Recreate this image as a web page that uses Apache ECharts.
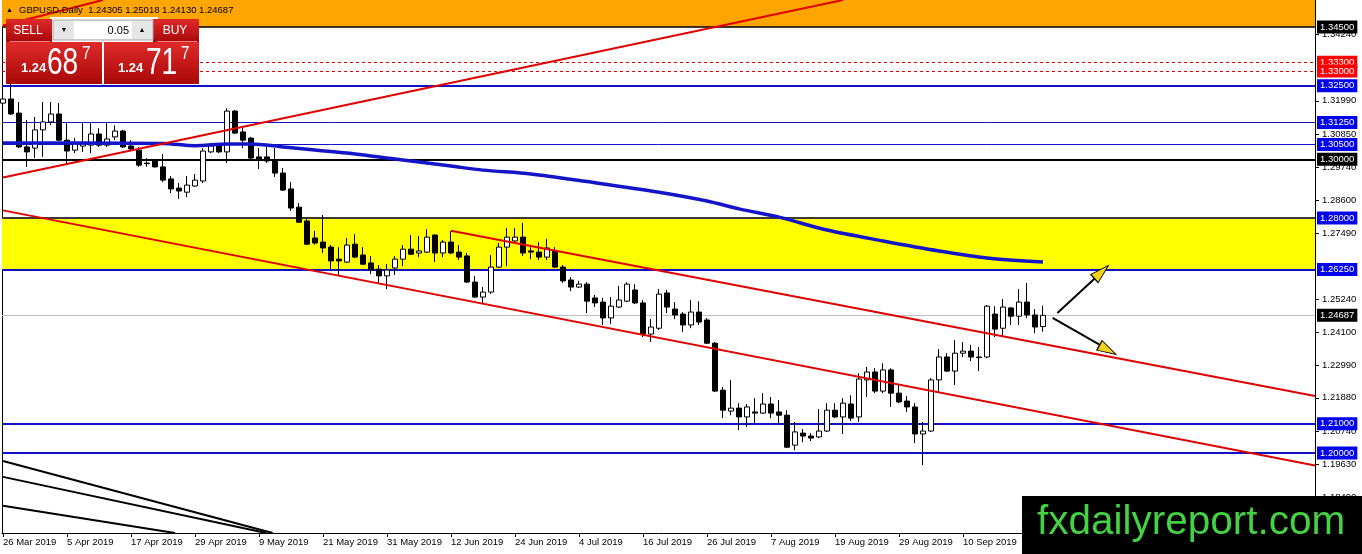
<!DOCTYPE html>
<html>
<head>
<meta charset="utf-8">
<script src="https://cdn.jsdelivr.net/npm/echarts@6/dist/echarts.min.js"></script>
<style>
html, body { margin: 0; padding: 0; background: #fff; }
#chart { width: 1362px; height: 554px; }
</style>
</head>
<body>
<div id="chart"></div>
<script>
// GBPUSD daily bars, 26 Mar 2019 .. 24 Sep 2019 (one per weekday)
var openP = [1.3191,1.3205,1.3157,1.3042,1.3038,1.3100,1.3127,1.3154,1.3065,1.3031,
  1.3045,1.3048,1.3086,1.3048,1.3076,1.3096,1.3045,1.3031,1.2987,1.2994,
  1.2974,1.2933,1.2902,1.2888,1.2909,1.2926,1.3025,1.3045,1.3025,1.3164,
  1.3093,1.3072,1.3008,1.3008,1.2994,1.2953,1.2899,1.2837,1.2790,1.2732,
  1.2718,1.2701,1.2660,1.2650,1.2711,1.2674,1.2647,1.2626,1.2603,1.2630,
  1.2660,1.2694,1.2681,1.2684,1.2742,1.2681,1.2718,1.2684,1.2671,1.2582,
  1.2531,1.2548,1.2633,1.2701,1.2722,1.2735,1.2688,1.2684,1.2667,1.2688,
  1.2633,1.2589,1.2565,1.2575,1.2528,1.2514,1.2460,1.2497,1.2517,1.2555,
  1.2511,1.2405,1.2425,1.2545,1.2490,1.2473,1.2436,1.2480,1.2453,1.2374,
  1.2214,1.2143,1.2153,1.2123,1.2140,1.2136,1.2167,1.2140,1.2129,1.2027,
  1.2068,1.2058,1.2055,1.2075,1.2146,1.2123,1.2167,1.2123,1.2249,1.2276,
  1.2211,1.2283,1.2204,1.2177,1.2157,1.2065,1.2075,1.2249,1.2327,1.2279,
  1.2340,1.2347,1.2327,1.2327,1.2473,1.2425,1.2494,1.2466,1.2514,1.2470,
  1.24305];
var highP = [1.3236,1.3270,1.3195,1.3134,1.3144,1.3195,1.3195,1.3191,1.3123,1.3072,
  1.3123,1.3123,1.3106,1.3127,1.3116,1.3100,1.3065,1.3042,1.3004,1.3001,
  1.3018,1.2943,1.2919,1.2943,1.2950,1.3038,1.3052,1.3052,1.3174,1.3168,
  1.3110,1.3076,1.3038,1.3042,1.3038,1.2970,1.2922,1.2851,1.2800,1.2756,
  1.2810,1.2708,1.2701,1.2732,1.2745,1.2701,1.2671,1.2640,1.2643,1.2671,
  1.2708,1.2742,1.2739,1.2762,1.2745,1.2725,1.2756,1.2708,1.2681,1.2603,
  1.2565,1.2674,1.2715,1.2766,1.2766,1.2783,1.2701,1.2718,1.2729,1.2701,
  1.2640,1.2599,1.2586,1.2582,1.2538,1.2528,1.2531,1.2569,1.2582,1.2575,
  1.2521,1.2456,1.2558,1.2555,1.2514,1.2480,1.2521,1.2517,1.2460,1.2378,
  1.2225,1.2249,1.2170,1.2167,1.2187,1.2204,1.2191,1.2180,1.2146,1.2106,
  1.2082,1.2068,1.2150,1.2170,1.2170,1.2187,1.2197,1.2272,1.2293,1.2289,
  1.2306,1.2289,1.2232,1.2194,1.2170,1.2106,1.2255,1.2354,1.2340,1.2385,
  1.2378,1.2368,1.2361,1.2504,1.2500,1.2524,1.2497,1.2558,1.2579,1.2490,
  1.25018];
var lowP = [1.3157,1.3151,1.3038,1.2974,1.3004,1.3008,1.3116,1.3062,1.2987,1.3021,
  1.3025,1.3021,1.3042,1.3042,1.3065,1.3038,1.3031,1.2974,1.2974,1.2972,
  1.2922,1.2885,1.2865,1.2871,1.2906,1.2919,1.3021,1.3021,1.2987,1.3086,
  1.3038,1.3001,1.2967,1.2987,1.2940,1.2892,1.2824,1.2783,1.2708,1.2709,
  1.2681,1.2620,1.2606,1.2647,1.2664,1.2640,1.2609,1.2579,1.2558,1.2606,
  1.2636,1.2674,1.2667,1.2681,1.2650,1.2667,1.2677,1.2657,1.2579,1.2528,
  1.2511,1.2541,1.2630,1.2636,1.2718,1.2671,1.2660,1.2657,1.2657,1.2630,
  1.2579,1.2551,1.2562,1.2477,1.2497,1.2436,1.2439,1.2494,1.2514,1.2507,
  1.2395,1.2378,1.2419,1.2477,1.2456,1.2412,1.2425,1.2436,1.2371,1.2208,
  1.2119,1.2129,1.2078,1.2089,1.2102,1.2134,1.2119,1.2099,1.2017,1.2010,
  1.2037,1.2041,1.2051,1.2072,1.2119,1.2065,1.2109,1.2106,1.2191,1.2204,
  1.2204,1.2157,1.2170,1.2140,1.2034,1.1959,1.2072,1.2208,1.2276,1.2232,
  1.2327,1.2313,1.2279,1.2323,1.2395,1.2398,1.2436,1.2436,1.2460,1.2408,
  1.24130];
var closeP = [1.3205,1.3154,1.3042,1.3025,1.3100,1.3127,1.3154,1.3065,1.3028,1.3052,
  1.3052,1.3086,1.3048,1.3069,1.3096,1.3042,1.3035,1.2980,1.2985,1.2974,
  1.2929,1.2899,1.2892,1.2912,1.2929,1.3028,1.3045,1.3025,1.3164,1.3089,
  1.3065,1.3004,1.2997,1.2994,1.2953,1.2895,1.2834,1.2786,1.2711,1.2715,
  1.2698,1.2654,1.2654,1.2708,1.2667,1.2643,1.2623,1.2603,1.2623,1.2660,
  1.2694,1.2677,1.2688,1.2735,1.2681,1.2718,1.2681,1.2667,1.2582,1.2531,
  1.2548,1.2633,1.2701,1.2735,1.2735,1.2681,1.2684,1.2667,1.2698,1.2633,
  1.2586,1.2565,1.2575,1.2517,1.2511,1.2460,1.2500,1.2521,1.2575,1.2511,
  1.2405,1.2429,1.2541,1.2497,1.2470,1.2436,1.2480,1.2446,1.2374,1.2211,
  1.2146,1.2153,1.2123,1.2157,1.2136,1.2167,1.2136,1.2129,1.2020,1.2072,
  1.2058,1.2051,1.2075,1.2146,1.2123,1.2170,1.2119,1.2252,1.2276,1.2211,
  1.2283,1.2204,1.2174,1.2157,1.2065,1.2075,1.2249,1.2327,1.2279,1.2340,
  1.2347,1.2327,1.2325,1.2500,1.2422,1.2497,1.2466,1.2514,1.2470,1.2429,
  1.24687];

// moving average, read at some bars
var maIdx = [0, 10, 20, 24, 28, 31, 35, 43, 48, 52, 56, 60, 66, 73, 82, 88, 92, 97, 103, 110, 117, 123, 130];
var maVal = [1.3055, 1.3055, 1.3054, 1.3046, 1.3052, 1.3052, 1.3042, 1.3021, 1.3004, 1.2991, 1.2977, 1.2963,
  1.2950, 1.2924, 1.2888, 1.2858, 1.2831, 1.2803, 1.2759, 1.2722, 1.2688, 1.2664, 1.2650];

// drawn objects [barIndex, price]
var redRising = [[0, 1.2938], [105, 1.3542]];
var redHeader = [[0, 1.3455], [12.5, 1.3542]];
var redChannelLow = [[0, 1.2826], [164, 1.1958]];
var redChannelHigh = [[56, 1.2757], [164, 1.2194]];
var fan1 = [[0, 1.1973], [33.7, 1.1728]];
var fan2 = [[0, 1.1919], [32.9, 1.1728]];
var fan3 = [[0, 1.1821], [21.5, 1.1728]];
var arrowUp = [[131.8, 1.2477], [136.7, 1.2600]];
var arrowDown = [[131.2, 1.2460], [137.6, 1.2361]];
var arrowHeads = [[137.3, 1.2616, -47], [138.1, 1.2351, -119]];

// horizontal levels
var levelBlue = [1.325, 1.3125, 1.305, 1.2625, 1.21, 1.20];
var levelBlueWidth = [2, 1, 1, 2, 2, 2];
var levelRed = [1.333, 1.330];
var levelBlack = [1.345, 1.300];
var lastPrice = 1.24687;
var yellowZone = [1.2625, 1.2800];
var orangeZone = [1.3450, 1.3542];

var yTicks = [1.3424, 1.3199, 1.3085, 1.2974, 1.2860, 1.2749, 1.2524, 1.2410, 1.2299, 1.2188, 1.2074, 1.1963, 1.1849];
var xTicks = [0, 8, 16, 24, 32, 40, 48, 56, 64, 72, 80, 88, 96, 104, 112, 120, 128, 136, 144, 152, 160];
var xTickLabels = ['26 Mar 2019', '5 Apr 2019', '17 Apr 2019', '29 Apr 2019', '9 May 2019', '21 May 2019',
  '31 May 2019', '12 Jun 2019', '24 Jun 2019', '4 Jul 2019', '16 Jul 2019', '26 Jul 2019',
  '7 Aug 2019', '19 Aug 2019', '29 Aug 2019', '10 Sep 2019'];

var FONT = 'Tahoma, "Liberation Sans", sans-serif';
var YMIN = 1.1728, YMAX = 1.3542, XMIN = -0.125, XMAX = 164;

var chart = echarts.init(document.getElementById('chart'));

var candleData = openP.map(function (o, i) {
  return [i, o, closeP[i], lowP[i], highP[i]];
});

function fmt(v) { return v.toFixed(5); }

var levelLines = [];
levelBlack.forEach(function (v) {
  levelLines.push({ yAxis: v, lineStyle: { color: '#000', width: v === 1.345 ? 1.5 : 2, type: 'solid' },
    label: { formatter: fmt(v), backgroundColor: '#000' } });
});
levelRed.forEach(function (v) {
  levelLines.push({ yAxis: v, lineStyle: { color: '#e00000', width: 1, type: [3, 3] },
    label: { formatter: fmt(v), backgroundColor: '#ff0000' } });
});
levelBlue.forEach(function (v, i) {
  levelLines.push({ yAxis: v, lineStyle: { color: '#1212c4', width: levelBlueWidth[i], type: 'solid' },
    label: { formatter: fmt(v), backgroundColor: '#0000ee' } });
});
levelLines.push({ yAxis: yellowZone[1], lineStyle: { color: '#3a3a3a', width: 2, type: 'solid' },
  label: { formatter: fmt(yellowZone[1]), backgroundColor: '#0000ee' } });
levelLines.push({ yAxis: lastPrice, lineStyle: { color: '#c0c0c0', width: 1, type: 'solid' },
  label: { formatter: fmt(lastPrice), backgroundColor: '#000' } });

function segment(data, color, width) {
  return {
    type: 'line', data: data, showSymbol: false, silent: true, z: 4,
    lineStyle: { color: color, width: width },
    emphasis: { disabled: true }
  };
}

var redGradient = { type: 'linear', x: 0, y: 0, x2: 0, y2: 1,
  colorStops: [{ offset: 0, color: '#e02a2a' }, { offset: 1, color: '#a80808' }] };

function txt(x, y, text, font, fill, align, extra) {
  var el = { type: 'text', x: x, y: y, z: 110,
    style: { text: text, font: font, fill: fill,
      align: align || 'left', verticalAlign: 'middle',
      textAlign: align || 'left', textVerticalAlign: 'middle' } };
  if (extra) { for (var k in extra) el[k] = extra[k]; }
  return el;
}

var option = {
  animation: false,
  backgroundColor: '#fff',
  grid: { left: 2, right: 47, top: 0, bottom: 21, outerBoundsMode: 'none' },
  xAxis: {
    type: 'value', min: XMIN, max: XMAX,
    axisLine: { show: true, onZero: false, lineStyle: { color: '#000', width: 1 } },
    axisTick: { show: true, customValues: xTicks, length: 4, lineStyle: { color: '#000' } },
    axisLabel: {
      customValues: xTicks, align: 'left', margin: 4, color: '#000',
      fontSize: 9.5, fontFamily: FONT,
      formatter: function (v) { return xTickLabels[Math.round(v / 8)] || ''; }
    },
    splitLine: { show: false }
  },
  yAxis: [{
    type: 'value', position: 'right', min: YMIN, max: YMAX,
    axisLine: { show: true, onZero: false, lineStyle: { color: '#000', width: 1 } },
    axisTick: { show: true, customValues: yTicks, length: 4, lineStyle: { color: '#000' } },
    axisLabel: { customValues: yTicks, margin: 7, color: '#000', fontSize: 9.5, fontFamily: FONT,
      formatter: function (v) { return fmt(v); } },
    splitLine: { show: false }
  }, {
    type: 'value', position: 'left', min: YMIN, max: YMAX,
    axisLine: { show: true, onZero: false, lineStyle: { color: '#000', width: 1 } },
    axisTick: { show: false }, axisLabel: { show: false }, splitLine: { show: false }
  }],
  series: [{
    type: 'candlestick',
    data: candleData,
    barWidth: 5,
    silent: true,
    z: 3,
    itemStyle: { color: '#fff', color0: '#000', borderColor: '#000', borderColor0: '#000', borderWidth: 1 },
    markArea: {
      silent: true,
      data: [
        [{ coord: [XMIN, orangeZone[0]], itemStyle: { color: '#ffa500' } }, { coord: [XMAX, orangeZone[1]] }],
        [{ coord: [XMIN, yellowZone[0]], itemStyle: { color: '#ffff00' } }, { coord: [XMAX, yellowZone[1]] }]
      ]
    },
    markLine: {
      silent: true, symbol: ['none', 'none'], z: 2, precision: 5,
      label: { show: true, position: 'end', distance: 2, color: '#fff', fontSize: 9.5, fontFamily: FONT,
        padding: [2, 3, 1, 3] },
      data: levelLines
    }
  },
  {
    type: 'line', data: maIdx.map(function (x, i) { return [x, maVal[i]]; }),
    showSymbol: false, smooth: 0.3, silent: true, z: 4,
    lineStyle: { color: '#1414c8', width: 3.5 }, emphasis: { disabled: true }
  },
  segment(redRising, '#e00000', 2),
  segment(redHeader, '#e00000', 2),
  segment(redChannelLow, '#e00000', 2),
  segment(redChannelHigh, '#e00000', 2),
  segment(fan1, '#000', 2),
  segment(fan2, '#000', 2),
  segment(fan3, '#000', 2),
  segment(arrowUp, '#000', 2),
  segment(arrowDown, '#000', 2),
  {
    type: 'scatter', silent: true, z: 5,
    symbol: 'triangle', symbolSize: [11, 19],
    data: arrowHeads.map(function (a) { return { value: [a[0], a[1]], symbolRotate: a[2] }; }),
    itemStyle: { color: '#f2d21a', borderColor: '#000', borderWidth: 1, opacity: 1 }
  }],
  graphic: [
    txt(6, 10, '\u25B2', '7px ' + FONT, '#000'),
    txt(19, 10.5, 'GBPUSD,Daily  1.24305 1.25018 1.24130 1.24687', '9.5px ' + FONT, '#000'),
    // one-click trading panel
    { type: 'rect', z: 100, shape: { x: 50, y: 17, width: 108, height: 26 }, style: { fill: '#fff' } },
    { type: 'rect', z: 101, shape: { x: 53, y: 20, width: 100, height: 20 }, style: { fill: '#e6e6e6', stroke: '#a8a8a8', lineWidth: 1 } },
    { type: 'rect', z: 102, shape: { x: 74, y: 21, width: 58, height: 18 }, style: { fill: '#fff' } },
    txt(64, 30, '\u25BC', '7px ' + FONT, '#000', 'center'),
    txt(142, 30, '\u25B2', '7px ' + FONT, '#000', 'center'),
    txt(129, 30.5, '0.05', '11px ' + FONT, '#000', 'right'),
    { type: 'rect', z: 100, shape: { x: 6, y: 19, width: 46, height: 23 }, style: { fill: redGradient } },
    { type: 'rect', z: 100, shape: { x: 153, y: 19, width: 46, height: 23 }, style: { fill: redGradient } },
    { type: 'rect', z: 100, shape: { x: 6, y: 42, width: 96, height: 42 }, style: { fill: redGradient } },
    { type: 'rect', z: 100, shape: { x: 104, y: 42, width: 95, height: 42 }, style: { fill: redGradient } },
    { type: 'line', z: 105, shape: { x1: 10, y1: 41.5, x2: 50, y2: 41.5 }, style: { stroke: '#f08080', lineWidth: 1 } },
    { type: 'line', z: 105, shape: { x1: 157, y1: 41.5, x2: 197, y2: 41.5 }, style: { stroke: '#f08080', lineWidth: 1 } },
    txt(28, 31, 'SELL', '12px ' + FONT, '#fff', 'center'),
    txt(175, 31, 'BUY', '12px ' + FONT, '#fff', 'center'),
    txt(21, 68, '1.24', 'bold 13px ' + FONT, '#fff'),
    txt(47, 64, '68', '36px ' + FONT, '#fff', 'left', { scaleX: 0.78 }),
    txt(82, 54, '7', '19px ' + FONT, '#fff', 'left', { scaleX: 0.8 }),
    txt(118, 68, '1.24', 'bold 13px ' + FONT, '#fff'),
    txt(146, 64, '71', '36px ' + FONT, '#fff', 'left', { scaleX: 0.78 }),
    txt(181, 54, '7', '19px ' + FONT, '#fff', 'left', { scaleX: 0.8 }),
    // site logo
    { type: 'rect', z: 120, shape: { x: 1022, y: 496, width: 340, height: 58 }, style: { fill: '#000' } },
    txt(1037, 523, 'fxdailyreport.com', '40.5px "Liberation Sans", sans-serif', '#44d144', 'left', { z: 121 })
  ]
};

chart.setOption(option);
</script>
</body>
</html>
